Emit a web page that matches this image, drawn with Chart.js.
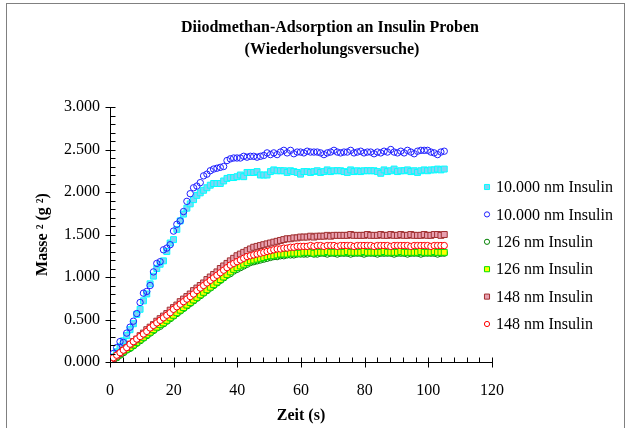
<!DOCTYPE html>
<html>
<head>
<meta charset="utf-8">
<script src="https://cdn.jsdelivr.net/npm/chart.js@4/dist/chart.umd.min.js"></script>
<style>
  html, body { margin: 0; padding: 0; background: #fff; }
  #wrap { width: 630px; height: 428px; }
</style>
</head>
<body>
<div id="wrap"><canvas id="chart" width="630" height="428"></canvas></div>
<script>
const titleLines = ['Diiodmethan-Adsorption an Insulin Proben', '(Wiederholungsversuche)'];
const xTitle = 'Zeit (s)';
const yTitle = 'Masse \u00B2 (g \u00B2)';

const seriesLabels = [
  '10.000 nm Insulin', '10.000 nm Insulin',
  '126 nm Insulin', '126 nm Insulin',
  '148 nm Insulin', '148 nm Insulin'
];

// time stamps (s)
const times = [
  0, 1.05, 2.1, 3.15, 4.2, 5.25, 6.3, 7.35, 8.4, 9.45,
  10.5, 11.55, 12.6, 13.65, 14.7, 15.75, 16.8, 17.85, 18.9, 19.95,
  21, 22.05, 23.1, 24.15, 25.2, 26.25, 27.3, 28.35, 29.4, 30.45,
  31.5, 32.55, 33.6, 34.65, 35.7, 36.75, 37.8, 38.85, 39.9, 40.95,
  42, 43.05, 44.1, 45.15, 46.2, 47.25, 48.3, 49.35, 50.4, 51.45,
  52.5, 53.55, 54.6, 55.65, 56.7, 57.75, 58.8, 59.85, 60.9, 61.95,
  63, 64.05, 65.1, 66.15, 67.2, 68.25, 69.3, 70.35, 71.4, 72.45,
  73.5, 74.55, 75.6, 76.65, 77.7, 78.75, 79.8, 80.85, 81.9, 82.95,
  84, 85.05, 86.1, 87.15, 88.2, 89.25, 90.3, 91.35, 92.4, 93.45,
  94.5, 95.55, 96.6, 97.65, 98.7, 99.75, 100.8, 101.85, 102.9, 103.95,
  105
];

const ins10kSquares = [
  0.00, 0.06, 0.12, 0.18, 0.25, 0.31, 0.38, 0.45, 0.56, 0.62,
  0.72, 0.80, 0.92, 1.01, 1.10, 1.15, 1.19, 1.30, 1.40, 1.44,
  1.56, 1.66, 1.74, 1.81, 1.86, 1.91, 1.96, 1.99, 2.02, 2.05,
  2.08, 2.10, 2.10, 2.10, 2.13, 2.16, 2.17, 2.17, 2.18, 2.20,
  2.18, 2.23, 2.23, 2.23, 2.24, 2.20, 2.20, 2.20, 2.24, 2.26,
  2.25, 2.25, 2.25, 2.23, 2.25, 2.24, 2.23, 2.21, 2.24, 2.24,
  2.23, 2.24, 2.25, 2.23, 2.24, 2.26, 2.24, 2.25, 2.25, 2.25,
  2.24, 2.23, 2.26, 2.24, 2.25, 2.24, 2.25, 2.25, 2.25, 2.25,
  2.24, 2.22, 2.26, 2.24, 2.25, 2.27, 2.24, 2.25, 2.25, 2.26,
  2.24, 2.25, 2.23, 2.25, 2.26, 2.25, 2.26, 2.26, 2.27, 2.26,
  2.27
];

const ins10kCircles = [
  0.02, 0.10, 0.17, 0.24, 0.23, 0.34, 0.41, 0.48, 0.57, 0.70,
  0.81, 0.83, 0.90, 1.06, 1.16, 1.18, 1.32, 1.34, 1.38, 1.54,
  1.62, 1.66, 1.77, 1.89, 1.98, 2.05, 2.07, 2.11, 2.19, 2.21,
  2.25, 2.27, 2.28, 2.29, 2.30, 2.37, 2.39, 2.40, 2.40, 2.40,
  2.42, 2.41, 2.42, 2.42, 2.41, 2.42, 2.43, 2.46, 2.44, 2.46,
  2.44, 2.47, 2.49, 2.46, 2.49, 2.45, 2.47, 2.47, 2.46, 2.48,
  2.47, 2.47, 2.47, 2.46, 2.44, 2.46, 2.47, 2.49, 2.47, 2.46,
  2.47, 2.47, 2.49, 2.46, 2.47, 2.48, 2.46, 2.47, 2.47, 2.45,
  2.47, 2.46, 2.48, 2.47, 2.50, 2.47, 2.46, 2.48, 2.46, 2.49,
  2.47, 2.45, 2.48, 2.49, 2.49, 2.49, 2.47, 2.46, 2.44, 2.47,
  2.48
];

const ins126Circles = [
  0.01, 0.03, 0.05, 0.08, 0.11, 0.14, 0.16, 0.19, 0.22, 0.25,
  0.28, 0.31, 0.34, 0.37, 0.40, 0.42, 0.45, 0.48, 0.51, 0.54,
  0.57, 0.60, 0.63, 0.66, 0.69, 0.72, 0.75, 0.78, 0.81, 0.84,
  0.87, 0.90, 0.93, 0.96, 0.99, 1.02, 1.04, 1.07, 1.09, 1.11,
  1.13, 1.15, 1.17, 1.18, 1.19, 1.20, 1.21, 1.22, 1.23, 1.24,
  1.24, 1.25, 1.25, 1.26, 1.26, 1.26, 1.27, 1.27, 1.27, 1.27,
  1.28, 1.27, 1.27, 1.28, 1.28, 1.27, 1.28, 1.28, 1.27, 1.28,
  1.28, 1.28, 1.27, 1.28, 1.28, 1.28, 1.27, 1.28, 1.28, 1.28,
  1.27, 1.28, 1.28, 1.28, 1.28, 1.27, 1.28, 1.28, 1.28, 1.27,
  1.28, 1.28, 1.28, 1.27, 1.28, 1.28, 1.28, 1.28, 1.27, 1.28,
  1.28
];

const ins126Squares = [
  0.00, 0.03, 0.06, 0.09, 0.12, 0.15, 0.17, 0.20, 0.23, 0.26,
  0.29, 0.32, 0.35, 0.38, 0.41, 0.44, 0.46, 0.49, 0.52, 0.55,
  0.58, 0.61, 0.64, 0.67, 0.70, 0.73, 0.76, 0.79, 0.82, 0.85,
  0.88, 0.91, 0.94, 0.97, 1.00, 1.03, 1.06, 1.09, 1.11, 1.13,
  1.15, 1.17, 1.19, 1.20, 1.21, 1.22, 1.23, 1.24, 1.25, 1.25,
  1.26, 1.27, 1.27, 1.27, 1.28, 1.28, 1.28, 1.28, 1.29, 1.29,
  1.29, 1.28, 1.29, 1.29, 1.29, 1.30, 1.29, 1.29, 1.29, 1.29,
  1.29, 1.30, 1.29, 1.29, 1.29, 1.29, 1.30, 1.29, 1.29, 1.29,
  1.29, 1.29, 1.30, 1.29, 1.29, 1.29, 1.29, 1.30, 1.29, 1.29,
  1.29, 1.29, 1.29, 1.30, 1.29, 1.29, 1.29, 1.30, 1.29, 1.29,
  1.29
];

const ins148Squares = [
  0.00, 0.04, 0.07, 0.10, 0.14, 0.17, 0.21, 0.24, 0.27, 0.31,
  0.34, 0.38, 0.41, 0.44, 0.48, 0.51, 0.54, 0.57, 0.61, 0.64,
  0.67, 0.71, 0.74, 0.77, 0.80, 0.84, 0.87, 0.90, 0.93, 0.97,
  1.00, 1.03, 1.06, 1.10, 1.13, 1.16, 1.19, 1.22, 1.25, 1.27,
  1.29, 1.31, 1.33, 1.35, 1.36, 1.37, 1.38, 1.39, 1.40, 1.41,
  1.42, 1.43, 1.44, 1.45, 1.45, 1.46, 1.46, 1.47, 1.47, 1.47,
  1.48, 1.47, 1.48, 1.48, 1.48, 1.49, 1.48, 1.49, 1.49, 1.49,
  1.49, 1.49, 1.50, 1.49, 1.49, 1.49, 1.49, 1.50, 1.49, 1.49,
  1.49, 1.50, 1.49, 1.49, 1.50, 1.49, 1.49, 1.50, 1.49, 1.49,
  1.50, 1.49, 1.49, 1.49, 1.50, 1.49, 1.49, 1.50, 1.50, 1.49,
  1.50
];

const ins148Circles = [
  0.02, 0.05, 0.08, 0.11, 0.14, 0.17, 0.21, 0.24, 0.27, 0.30,
  0.33, 0.36, 0.40, 0.43, 0.46, 0.49, 0.52, 0.55, 0.58, 0.62,
  0.65, 0.68, 0.71, 0.74, 0.77, 0.80, 0.84, 0.87, 0.90, 0.93,
  0.96, 0.99, 1.02, 1.05, 1.08, 1.11, 1.14, 1.16, 1.18, 1.20,
  1.22, 1.24, 1.25, 1.26, 1.27, 1.28, 1.29, 1.30, 1.31, 1.32,
  1.33, 1.33, 1.34, 1.34, 1.35, 1.35, 1.36, 1.36, 1.36, 1.36,
  1.37, 1.36, 1.37, 1.37, 1.36, 1.37, 1.37, 1.37, 1.36, 1.37,
  1.37, 1.37, 1.37, 1.36, 1.37, 1.37, 1.37, 1.37, 1.37, 1.36,
  1.37, 1.37, 1.37, 1.37, 1.36, 1.37, 1.37, 1.37, 1.37, 1.37,
  1.36, 1.37, 1.37, 1.37, 1.37, 1.37, 1.36, 1.37, 1.37, 1.37,
  1.37
];

const seriesValues = [ins10kSquares, ins10kCircles, ins126Circles, ins126Squares, ins148Squares, ins148Circles];

// marker styles, same order as the legend
const markerStyles = [
  { pointStyle: 'rect', radius: 4.2, fill: '#80d4f4', stroke: '#00ffff' },
  { pointStyle: 'circle', radius: 3.2, fill: 'rgba(255,255,255,0)', stroke: '#1f1fff' },
  { pointStyle: 'circle', radius: 3.2, fill: 'rgba(255,255,255,0)', stroke: '#008000' },
  { pointStyle: 'rect', radius: 4.2, fill: '#ffff00', stroke: '#00e000' },
  { pointStyle: 'rect', radius: 4.2, fill: '#e8a0b0', stroke: '#a03030' },
  { pointStyle: 'circle', radius: 3.2, fill: '#ffffff', stroke: '#ff0000' }
];

const serif = "'Liberation Serif', 'Times New Roman', serif";

function toPoints(values) {
  return values.map((v, i) => ({ x: times[i], y: v }));
}

const datasets = seriesLabels.map((label, i) => {
  const m = markerStyles[i];
  return {
    label: label,
    data: toPoints(seriesValues[i]),
    showLine: false,
    pointStyle: m.pointStyle,
    pointRadius: m.radius,
    pointBackgroundColor: m.fill,
    pointBorderColor: m.stroke,
    pointBorderWidth: 1,
    order: seriesLabels.length - i   // later series drawn on top, like the original
  };
});

// frame, title, axis ticks and legend
const decorPlugin = {
  id: 'decor',
  afterDraw(chart) {
    const ctx = chart.ctx;
    const xs = chart.scales.x;
    const ys = chart.scales.y;
    const area = chart.chartArea;
    ctx.save();

    ctx.strokeStyle = '#808080';
    ctx.lineWidth = 1;
    ctx.strokeRect(6.5, 3.5, 618, 440);

    ctx.fillStyle = '#000';
    ctx.font = 'bold 16px ' + serif;
    ctx.textAlign = 'center';
    ctx.textBaseline = 'middle';
    ctx.fillText(titleLines[0], 330, 28);
    ctx.fillText(titleLines[1], 332, 50);

    // majors cross the axis, minors point inwards
    ctx.strokeStyle = '#000000';
    ctx.lineWidth = 1;
    const ax = Math.round(area.left) + 0.5;
    const ay = Math.round(area.bottom) + 0.5;
    for (let k = 0; k <= 30; k++) {
      const py = Math.round(ys.getPixelForValue(k / 10)) + 0.5;
      const major = k % 5 === 0;
      ctx.beginPath();
      ctx.moveTo(ax - (major ? 5 : 0), py);
      ctx.lineTo(ax + 5, py);
      ctx.stroke();
    }
    for (let k = 0; k <= 30; k++) {
      const px = Math.round(xs.getPixelForValue(k * 4)) + 0.5;
      const major = k % 5 === 0;
      ctx.beginPath();
      ctx.moveTo(px, ay - 5);
      ctx.lineTo(px, ay + (major ? 5 : 0));
      ctx.stroke();
    }

    // legend
    ctx.font = '16px ' + serif;
    ctx.textAlign = 'left';
    chart.data.datasets.forEach((ds, i) => {
      const m = markerStyles[i];
      const y = 187 + 27.4 * i;
      ctx.fillStyle = m.fill;
      ctx.strokeStyle = m.stroke;
      ctx.lineWidth = 1;
      Chart.helpers.drawPoint(ctx, {
        pointStyle: m.pointStyle,
        radius: m.pointStyle === 'rect' ? 3.6 : 2.6,
        rotation: 0,
        borderWidth: 1
      }, 487, y);
      ctx.fillStyle = '#000';
      ctx.fillText(ds.label, 496, y + 1);
    });
    ctx.restore();
  }
};

new Chart(document.getElementById('chart'), {
  type: 'scatter',
  data: { datasets: datasets },
  options: {
    responsive: false,
    animation: false,
    devicePixelRatio: 1,
    layout: { padding: { left: 5, right: 138, top: 107, bottom: 0 } },
    plugins: {
      legend: { display: false },
      title: { display: false },
      tooltip: { enabled: false }
    },
    scales: {
      x: {
        type: 'linear',
        min: 0,
        max: 120,
        ticks: { stepSize: 20, color: '#000', padding: 19, font: { family: serif, size: 16 } },
        grid: { display: false, drawTicks: false },
        border: { display: true, color: '#000', width: 1 },
        title: { display: true, text: xTitle, color: '#000', font: { family: serif, size: 16, weight: 'bold' }, padding: { top: 0, bottom: 3 } },
        afterFit: (s) => { s.height = 66; }
      },
      y: {
        min: 0,
        max: 3,
        ticks: { stepSize: 0.5, color: '#000', padding: 10, font: { family: serif, size: 16 }, callback: (v) => v.toFixed(3) },
        grid: { display: false, drawTicks: false },
        border: { display: true, color: '#000', width: 1 },
        title: { display: true, text: yTitle, color: '#000', font: { family: serif, size: 16, weight: 'bold' }, padding: { top: 28, bottom: 0 } },
        afterFit: (s) => { s.width = 105; }
      }
    }
  },
  plugins: [decorPlugin]
});
</script>
</body>
</html>
